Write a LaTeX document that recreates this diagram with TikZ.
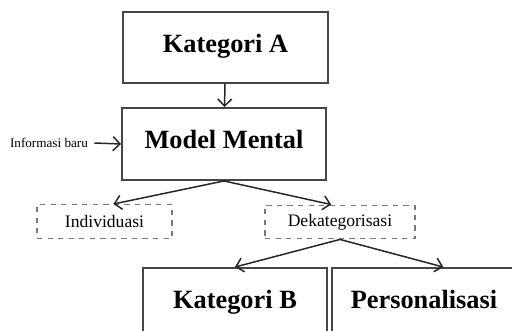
\documentclass[tikz,border=0pt]{standalone}
\usepackage{fontspec}
\setmainfont{Liberation Serif}
\usetikzlibrary{arrows.meta}
\definecolor{boxgray}{RGB}{70,70,70}
\definecolor{dashgray}{RGB}{120,120,120}

\begin{document}
\begin{tikzpicture}[x=0.02cm, y=-0.02cm, >={Straight Barb[length=4pt,width=8pt]},
    kotak/.style={draw=boxgray, line width=1.1pt, fill=white, minimum width=3.68cm, minimum height=1.44cm, text height=1.6ex, text depth=0.45ex, font=\fontsize{15}{17}\selectfont\bfseries},
    kotakputus/.style={draw=dashgray, dashed, line width=0.8pt, minimum height=0.67cm, font=\fontsize{10}{12}\selectfont},
    panah/.style={->, line width=0.85pt, draw=black!85}]
            % Batas gambar
            \useasboundingbox (0,0) rectangle (512,331);
            \clip (0,0) rectangle (512,331);

            % Kotak utama
            \node[kotak, minimum width=4.1cm, minimum height=1.42cm] (katA) at (225.5,47.5) {Kategori A};
            \node[kotak, minimum width=4.08cm] (model) at (224,144) {Model Mental};

            % Informasi masuk
            \node[font=\fontsize{7.5}{9}\selectfont, inner sep=0pt] (info) at (49,143) {Informasi baru};

            % Dua jalur
            \node[kotakputus, minimum width=2.7cm] (indiv) at (104.5,221.5) {Individuasi};
            \node[kotakputus, minimum width=3.0cm] (dekat) at (340,222) {Dekategorisasi};

            % Hasil akhir
            \node[kotak] (katB) at (235,304) {Kategori B};
            \node[kotak] (person) at (424,304) {Personalisasi};

            % Panah
            \draw[panah] (katA) -- (model);
            \draw[panah] (info.east) ++(6,0) -- (model.west);
            \draw[panah] (model.south) -- ([xshift=5]indiv.north);
            \draw[panah] (model.south) -- ([xshift=-5]dekat.north);
            \draw[panah] (dekat.south) -- (katB.north);
            \draw[panah] (dekat.south) -- ([xshift=11]person.north);
        \end{tikzpicture}
\end{document}
